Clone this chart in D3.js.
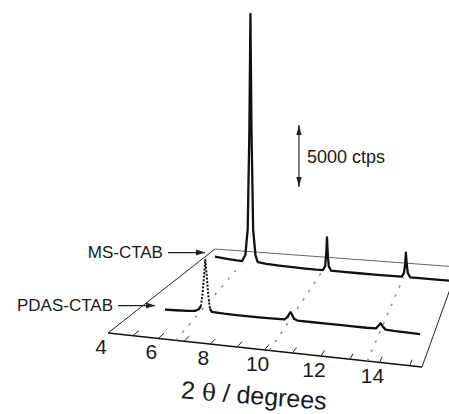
<!DOCTYPE html>
<html>
<head>
<meta charset="utf-8">
<script src="https://cdn.jsdelivr.net/npm/d3@7"></script>
<style>
  html, body { margin: 0; padding: 0; background: #fff; }
  svg { display: block; font-family: "Liberation Sans", Arial, sans-serif; }
</style>
</head>
<body>
<div id="chart"></div>
<script>
// XRD patterns, 2-theta in degrees, intensity in ctps
const msTheta  = [4.75, 5.0, 5.4, 5.8, 6.05, 6.21, 6.32, 6.40, 6.45, 6.50, 6.58, 6.69, 6.8, 7.2, 7.8, 8.3, 9.0, 9.5, 9.8, 9.9, 9.95, 9.98, 10.01, 10.06, 10.16, 10.6, 11.4, 12.2, 12.8, 13.25, 13.35, 13.40, 13.43, 13.46, 13.51, 13.61, 14.0, 14.6, 15.4];
const msCounts = [470, 420, 350, 290, 270, 800, 2900, 11000, 20600, 11000, 2900, 800, 280, 200, 140, 100, 60, 50, 60, 400, 1500, 2700, 1500, 400, 60, 40, 30, 20, 20, 30, 350, 1100, 1910, 1100, 350, 30, 20, 10, 0];

const pdasTheta  = [5.05, 5.5, 6.0, 6.3, 6.45, 6.55, 6.62, 6.68, 6.73, 6.79, 6.85, 6.92, 7.0, 7.5, 8.0, 8.5, 9.0, 9.5, 9.9, 10.02, 10.08, 10.14, 10.2, 10.27, 10.4, 11.0, 11.5, 12.0, 12.5, 13.0, 13.35, 13.44, 13.52, 13.6, 13.7, 14.0, 14.5, 14.94];
const pdasCounts = [20, 50, 90, 140, 260, 500, 1400, 2700, 3800, 2700, 1400, 400, 180, 140, 120, 115, 120, 130, 150, 330, 550, 680, 500, 250, 150, 140, 135, 130, 125, 120, 140, 330, 510, 300, 120, 90, 70, 50];

const seriesNames = ["MS-CTAB", "PDAS-CTAB"];
const tickLabels = [4, 6, 8, 10, 12, 14];
// dotted guide lines: 2-theta where they leave the front axis and where they reach the back trace
const guideFront = [6.68, 10.18, 13.59];
const guideBack  = [6.0, 9.78, 13.33];
const scaleBarCounts = 5000;
const scaleBarBase = 6600;
const scaleBarTheta = 8.71;

const width = 449, height = 414;
// floor of the 3D box: front-left, front-right, back-right, back-left
const corners = [[108, 333], [422, 367], [458, 267], [215, 249]];
const depthMS = 0.82, depthPDAS = 0.25;

const u = d3.scaleLinear().domain([4, 15.4]).range([0, 1]);
const lift = d3.scaleLinear().domain([0, 5000]).range([0, 75]);

// unit square -> perspective quad (square to quad homography)
function quadMap(q) {
  const [[x0, y0], [x1, y1], [x2, y2], [x3, y3]] = q;
  const dx1 = x1 - x2, dx2 = x3 - x2, dx3 = x0 - x1 + x2 - x3;
  const dy1 = y1 - y2, dy2 = y3 - y2, dy3 = y0 - y1 + y2 - y3;
  const den = dx1 * dy2 - dx2 * dy1;
  const g = (dx3 * dy2 - dx2 * dy3) / den;
  const h = (dx1 * dy3 - dx3 * dy1) / den;
  const a = x1 - x0 + g * x1, b = x3 - x0 + h * x3;
  const d = y1 - y0 + g * y1, e = y3 - y0 + h * y3;
  return (s, t, up) => {
    const w = g * s + h * t + 1;
    return [(a * s + b * t + x0) / w, (d * s + e * t + y0 - (up || 0)) / w];
  };
}
const P = quadMap(corners);
const proj = (th, v, c) => P(u(th), v, lift(c || 0));

const svg = d3.select("#chart").append("svg")
  .attr("width", width).attr("height", height);

const line = d3.line();

// floor outline
const [t0, t1] = u.domain();
svg.append("path").attr("d", line([proj(t0, 0), proj(t1, 0)]))
  .attr("stroke", "#111").attr("stroke-width", 1.3).attr("fill", "none");
svg.append("path").attr("d", line([proj(t0, 0), proj(t0, 1)]))
  .attr("stroke", "#222").attr("stroke-width", 1).attr("fill", "none");
svg.append("path").attr("d", line([proj(t0, 1), proj(t1, 1)]))
  .attr("stroke", "#555").attr("stroke-width", 0.9).attr("fill", "none");
svg.append("path").attr("d", line([proj(t1, 0), proj(t1, 1)]))
  .attr("stroke", "#222").attr("stroke-width", 1).attr("fill", "none");

// ticks along the front axis
const ticks = u.ticks(12).filter(t => t > t0);
svg.append("g").selectAll("path").data(ticks).join("path")
  .attr("d", t => line([proj(t, 0), proj(t, 0.045)]))
  .attr("stroke", "#222").attr("stroke-width", 1);

svg.append("g").selectAll("text").data(tickLabels).join("text")
  .attr("x", t => proj(t, 0)[0] - 7)
  .attr("y", t => proj(t, 0)[1] + 21)
  .attr("text-anchor", "middle")
  .attr("font-size", 21)
  .attr("fill", "#1a1a1a")
  .text(t => t);

// axis title
const mid = proj((t0 + t1) / 2, 0);
const title = svg.append("text")
  .attr("transform", `translate(${mid[0] - 3},${mid[1] + 55}) rotate(4.5)`)
  .attr("text-anchor", "middle")
  .attr("font-size", 25)
  .attr("fill", "#1a1a1a");
title.append("tspan").text("2 ");
title.append("tspan").attr("font-family", "'DejaVu Serif', 'Liberation Serif', serif").attr("font-size", 23).text("θ");
title.append("tspan").text(" / degrees");

// dotted guide lines
svg.append("g").selectAll("path").data(guideFront).join("path")
  .attr("d", (t, i) => line([proj(t, 0), proj(guideBack[i], depthMS)]))
  .attr("stroke", "#8a8a8a").attr("stroke-width", 1.5)
  .attr("stroke-dasharray", "2.5,7.5").attr("fill", "none");

// MS-CTAB trace
const msPts = msTheta.map((t, i) => proj(t, depthMS, msCounts[i]));
svg.append("path").attr("d", line(msPts))
  .attr("fill", "none").attr("stroke", "#111").attr("stroke-width", 2.3)
  .attr("stroke-linejoin", "round");

// PDAS-CTAB trace: steep parts show up dotted in the original
const pdPts = pdasTheta.map((t, i) => proj(t, depthPDAS, pdasCounts[i]));
let runs = [], cur = null;
for (let i = 1; i < pdPts.length; i++) {
  const dx = pdPts[i][0] - pdPts[i - 1][0], dy = pdPts[i][1] - pdPts[i - 1][1];
  const steep = Math.abs(dy) > 3 * Math.abs(dx);
  if (!cur || cur.steep !== steep) {
    cur = { steep, pts: [pdPts[i - 1]] };
    runs.push(cur);
  }
  cur.pts.push(pdPts[i]);
}
svg.append("g").selectAll("path").data(runs).join("path")
  .attr("d", r => line(r.pts))
  .attr("fill", "none").attr("stroke", "#111")
  .attr("stroke-width", r => r.steep ? 2 : 2.3)
  .attr("stroke-dasharray", r => r.steep ? "2,1.6" : null)
  .attr("stroke-linejoin", "round");

// series labels with arrows
function arrowHead(g, tip, dir, len, half) {
  const [x, y] = tip, [ux, uy] = dir;
  g.append("path")
    .attr("d", `M${x},${y}L${x - ux * len - uy * half},${y - uy * len + ux * half}L${x - ux * len + uy * half},${y - uy * len - ux * half}Z`)
    .attr("fill", "#222");
}
const starts = [msPts[0], pdPts[0]];
const labels = svg.append("g");
seriesNames.forEach((name, i) => {
  const tip = [starts[i][0] - 10, starts[i][1] - 4];
  const tail = [tip[0] - 37, tip[1]];
  labels.append("path").attr("d", line([tail, tip]))
    .attr("stroke", "#222").attr("stroke-width", 1.2);
  arrowHead(labels, tip, [1, 0], 9, 3);
  labels.append("text")
    .attr("x", tail[0] - 5).attr("y", tip[1] + 5)
    .attr("text-anchor", "end").attr("font-size", 17).attr("fill", "#1a1a1a")
    .text(name);
});

// 5000 ctps scale bar
const sb0 = proj(scaleBarTheta, depthMS, scaleBarBase);
const sb1 = proj(scaleBarTheta, depthMS, scaleBarBase + scaleBarCounts);
const bar = svg.append("g");
bar.append("path").attr("d", line([sb0, sb1])).attr("stroke", "#222").attr("stroke-width", 1.2);
arrowHead(bar, sb1, [0, -1], 10, 2.6);
arrowHead(bar, sb0, [0, 1], 10, 2.6);
bar.append("text")
  .attr("x", sb0[0] + 8).attr("y", (sb0[1] + sb1[1]) / 2 + 7)
  .attr("font-size", 18).attr("fill", "#1a1a1a")
  .text(scaleBarCounts + " ctps");
</script>
</body>
</html>
